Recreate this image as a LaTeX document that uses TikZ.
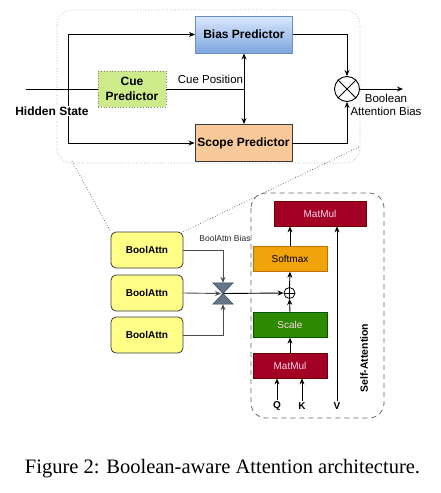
\documentclass[tikz,border=0pt]{standalone}
\usepackage{fontspec}
\setmainfont{Liberation Serif}
\setsansfont{Liberation Sans}
\usetikzlibrary{arrows.meta,calc}
\definecolor{biasfillA}{HTML}{DAE8FC}
\definecolor{biasfillB}{HTML}{7EA6E0}
\definecolor{biasline}{HTML}{6C8EBF}
\definecolor{scopefill}{HTML}{F9C99A}
\definecolor{darkline}{HTML}{36393D}
\definecolor{cuefill}{HTML}{CDEB8B}
\definecolor{cueline}{HTML}{7F8F5F}
\definecolor{yelfill}{HTML}{FFFF88}
\definecolor{slate}{HTML}{647687}
\definecolor{slateline}{HTML}{314354}
\definecolor{mmfill}{HTML}{A20025}
\definecolor{mmline}{HTML}{6F0000}
\definecolor{smfill}{HTML}{F0A30A}
\definecolor{smline}{HTML}{BD7000}
\definecolor{scfill}{HTML}{2D8A00}
\definecolor{scline}{HTML}{005700}
\definecolor{mmtext}{HTML}{F8D8E8}
\begin{document}
\begin{tikzpicture}[x=1pt,y=-1pt,
  every node/.style={font=\sffamily},
  fs/.style={font=\sffamily\fontsize{#1}{#1}\selectfont},
  fsb/.style={font=\sffamily\bfseries\fontsize{#1}{#1}\selectfont},
  arr/.style={line width=0.9pt,-{Stealth[length=6pt,width=5pt]}},
  ln/.style={line width=0.9pt},
  garr/.style={line width=0.9pt,draw=black!70,-{Stealth[length=6pt,width=5pt]}},
  gln/.style={line width=0.9pt,draw=black!70},
  predbox/.style={draw, line width=0.9pt, minimum width=97pt, minimum height=37pt, inner sep=0pt},
  baattn/.style={draw=darkline, fill=yelfill, rounded corners=5pt, line width=0.8pt,
     minimum width=72pt, minimum height=36pt, inner sep=0pt, fsb=10},
  colbox/.style={draw, line width=0.8pt, minimum width=74pt, minimum height=24.5pt, inner sep=0pt, fs=10},
  lbl/.style={inner sep=1pt},
]
\useasboundingbox (0,0) rectangle (441,493);

% ---------- upper (zoom) panel ----------
\draw[draw=black!35, dotted, line width=0.7pt, rounded corners=15pt] (57,10) rectangle (360,163);

\node[predbox, draw=biasline, top color=biasfillA, bottom color=biasfillB, fsb=12] (bias) at (244,34.5) {Bias Predictor};
\node[predbox, draw=darkline, fill=scopefill, fsb=12] (scope) at (243.5,143) {Scope Predictor};
\node[draw=cueline, fill=cuefill, dotted, line width=0.8pt, minimum width=68pt, minimum height=36pt,
      inner sep=0pt, align=center, font=\sffamily\bfseries\fontsize{12}{14.5}\selectfont] (cue) at (132,89) {Cue\\Predictor};

\node[circle, draw, line width=0.9pt, minimum size=25pt, inner sep=0pt] (ot) at (347,89) {};
\draw[line width=0.9pt] (ot.45) -- (ot.225) (ot.135) -- (ot.315);

\coordinate (hsin) at (26,89);
\coordinate (vline) at (68,89);
\coordinate (cuej) at (244,89);
\coordinate (bout) at (403,89);

\draw[ln] (hsin) -- (cue.west);
\draw[ln] (vline |- bias.west) -- (vline |- scope.west);
\draw[arr] (vline |- bias.west) -- (bias.west);
\draw[arr] (vline |- scope.west) -- (scope.west);
\node[lbl, fill=white, fsb=12] (hs) at (52,111) {Hidden State};

\draw[ln] (cue.east) -- (cuej);
\draw[arr] (cuej) -- (cuej |- bias.south);
\draw[arr] (cuej) -- (cuej |- scope.north);
\node[lbl, fs=11.5] (cuepos) at (210.5,79) {Cue Position};

\draw[arr] (bias.east) -| (ot.north);
\draw[arr] (scope.east) -| (ot.south);
\draw[arr] (ot.east) -- (bout);
\node[lbl, fs=11.5, align=center, font=\sffamily\fontsize{11.5}{13.5}\selectfont] (bab) at (386,105) {Boolean\\Attention Bias};

% ---------- lower panel ----------
\node[baattn] (ba1) at (147,250) {BoolAttn};
\node[baattn] (ba2) at (147,293) {BoolAttn};
\node[baattn] (ba3) at (147,335) {BoolAttn};

\coordinate (zl) at (72,161);
\coordinate (zr) at (359,147);
\draw[draw=black!65, dotted, line width=0.7pt] (zl) -- (ba1.north west);
\draw[draw=black!65, dotted, line width=0.7pt] (zr) -- (ba1.north east);

\draw[draw=black!60, dash pattern=on 5pt off 4pt, line width=0.8pt, rounded corners=15pt] (251,193) rectangle (384,418);

\node[minimum width=20pt, minimum height=21pt, inner sep=0pt] (bt) at (223,293.5) {};
\node[circle, draw, line width=0.8pt, minimum size=11pt, inner sep=0pt] (op) at (289.5,293) {};
\draw[line width=0.8pt] (op.north) -- (op.south) (op.west) -- (op.east);

\draw[arr] (bt.center) -- (op.west);
\draw[garr] (ba1.east) -| (bt.north);
\draw[garr] (ba3.east) -| (bt.south);
\draw[garr] (ba2.east) -- ($(bt.center)+(-2,0)$);
\fill[slate, draw=slateline, line width=0.5pt] (bt.north west) -- (bt.north east) -- (bt.south west) -- (bt.south east) -- cycle;
\node[lbl, fs=8.5, text=black!85] (bab2) at (225,238) {BoolAttn Bias};

\node[colbox, draw=mmline, fill=mmfill, text=mmtext, minimum width=92pt, minimum height=25pt] (mm1) at (320,213.5) {MatMul};
\node[colbox, draw=smline, fill=smfill] (sm) at (290,259) {Softmax};
\node[colbox, draw=scline, fill=scfill, text=mmtext] (sc) at (290,325) {Scale};
\node[colbox, draw=mmline, fill=mmfill, text=mmtext, minimum height=25pt] (mm2) at (290,365.5) {MatMul};

\node[lbl, fsb=10] (q) at (277,406) {Q};
\node[lbl, fsb=10] (k) at (302,406) {K};
\node[lbl, fsb=10] (v) at (337,406) {V};

\draw[arr] (q.north) -- (q.north |- mm2.south);
\draw[arr] (k.north) -- (k.north |- mm2.south);
\draw[arr] (v.north) -- (v.north |- mm1.south);
\draw[arr] (mm2.north) -- (sc.south);
\draw[arr] (sc.north) -- (op.south);
\draw[arr] (op.north) -- (sm.south);
\draw[arr] (sm.north) -- (sm.north |- mm1.south);

\node[lbl, fsb=10.5, rotate=90] (sa) at (364,358) {Self-Attention};

% ---------- caption ----------
\node[anchor=base, inner sep=0pt, font=\rmfamily\fontsize{20.5}{24}\selectfont] (cap) at (222.5,473) {Figure 2: Boolean-aware Attention architecture.};
\end{tikzpicture}
\end{document}
